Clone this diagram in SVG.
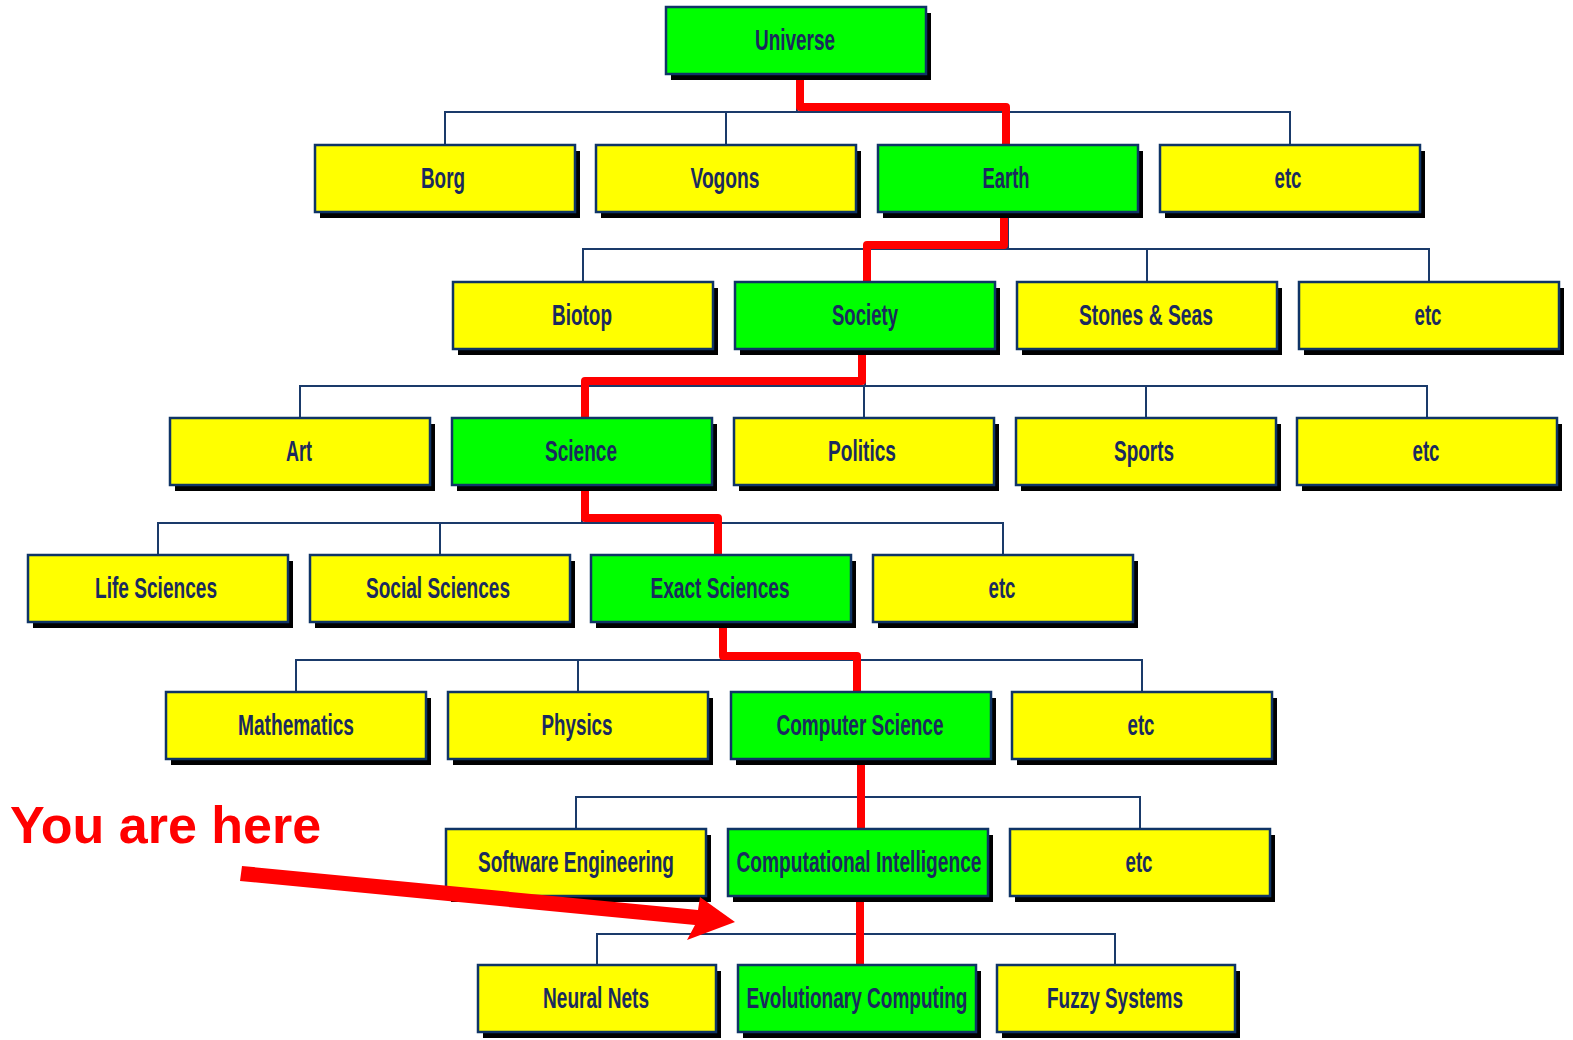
<svg xmlns="http://www.w3.org/2000/svg" width="1573" height="1040" viewBox="0 0 1573 1040">
<style>
.sh{fill:#000}
.y{fill:#ffff00;stroke:#0f3466;stroke-width:2.5}
.g{fill:#00ff00;stroke:#0f3466;stroke-width:2.5}
.t{font-family:"Liberation Sans Narrow","Liberation Sans",Arial,sans-serif;font-weight:bold;font-size:29px;fill:#1a2a5e;text-anchor:middle}
.ln{fill:none;stroke:#1a3a6a;stroke-width:2}
.rd{fill:none;stroke:#ff0000;stroke-width:8;stroke-linejoin:round}
.yah{font-family:"Liberation Sans",Arial,sans-serif;font-weight:bold;font-size:52px;fill:#ff0000}
</style>
<rect width="1573" height="1040" fill="#ffffff"/>

<g id="connectors">
<path class="ln" d="M797 74V112M445 145V112H1290V145M726 112V145M1008 112V145"/>
<path class="ln" d="M1008 212V249M583 282V249H1429V282M865 249V282M1147 249V282"/>
<path class="ln" d="M865 349V386M300 418V386H1427V418M582 386V418M864 386V418M1146 386V418"/>
<path class="ln" d="M582 486V523M158 555V523H1003V555M440 523V555M721 523V555"/>
<path class="ln" d="M721 622V660M296 692V660H1142V692M578 660V692M860 660V692"/>
<path class="ln" d="M860 760V797M576 829V797H1140V829M858 797V829"/>
<path class="ln" d="M858 896V934M597 965V934H1115V965M858 934V965"/>
<g id="path-highlight">
<path class="rd" d="M800 76V107H1006V145"/>
<path class="rd" d="M1004 214V245H867V282"/>
<path class="rd" d="M862 351V381H585V418"/>
<path class="rd" d="M585 488V518H718V555"/>
<path class="rd" d="M723 624V656H857V692"/>
<path class="rd" d="M861 762V829"/>
<path class="rd" d="M860 898V965"/>
</g>
</g>

<g id="n-universe"><rect class="sh" x="671" y="13" width="260" height="67"/><rect class="g" x="666" y="7" width="260" height="67"/><text class="t" x="795" y="50" textLength="80" lengthAdjust="spacingAndGlyphs">Universe</text></g>

<g id="n-borg"><rect class="sh" x="320" y="151" width="260" height="67"/><rect class="y" x="315" y="145" width="260" height="67"/><text class="t" x="443" y="188" textLength="44" lengthAdjust="spacingAndGlyphs">Borg</text></g>
<g id="n-vogons"><rect class="sh" x="601" y="151" width="260" height="67"/><rect class="y" x="596" y="145" width="260" height="67"/><text class="t" x="725" y="188" textLength="69" lengthAdjust="spacingAndGlyphs">Vogons</text></g>
<g id="n-earth"><rect class="sh" x="883" y="151" width="260" height="67"/><rect class="g" x="878" y="145" width="260" height="67"/><text class="t" x="1006" y="188" textLength="47" lengthAdjust="spacingAndGlyphs">Earth</text></g>
<g id="n-etc1"><rect class="sh" x="1165" y="151" width="260" height="67"/><rect class="y" x="1160" y="145" width="260" height="67"/><text class="t" x="1288" y="188" textLength="27" lengthAdjust="spacingAndGlyphs">etc</text></g>

<g id="n-biotop"><rect class="sh" x="458" y="288" width="260" height="67"/><rect class="y" x="453" y="282" width="260" height="67"/><text class="t" x="582" y="325" textLength="60" lengthAdjust="spacingAndGlyphs">Biotop</text></g>
<g id="n-society"><rect class="sh" x="740" y="288" width="260" height="67"/><rect class="g" x="735" y="282" width="260" height="67"/><text class="t" x="865" y="325" textLength="66" lengthAdjust="spacingAndGlyphs">Society</text></g>
<g id="n-stones"><rect class="sh" x="1022" y="288" width="260" height="67"/><rect class="y" x="1017" y="282" width="260" height="67"/><text class="t" x="1146" y="325" textLength="134" lengthAdjust="spacingAndGlyphs">Stones &amp; Seas</text></g>
<g id="n-etc2"><rect class="sh" x="1304" y="288" width="260" height="67"/><rect class="y" x="1299" y="282" width="260" height="67"/><text class="t" x="1428" y="325" textLength="27" lengthAdjust="spacingAndGlyphs">etc</text></g>

<g id="n-art"><rect class="sh" x="175" y="424" width="260" height="67"/><rect class="y" x="170" y="418" width="260" height="67"/><text class="t" x="299" y="461" textLength="26" lengthAdjust="spacingAndGlyphs">Art</text></g>
<g id="n-science"><rect class="sh" x="457" y="424" width="260" height="67"/><rect class="g" x="452" y="418" width="260" height="67"/><text class="t" x="581" y="461" textLength="72" lengthAdjust="spacingAndGlyphs">Science</text></g>
<g id="n-politics"><rect class="sh" x="739" y="424" width="260" height="67"/><rect class="y" x="734" y="418" width="260" height="67"/><text class="t" x="862" y="461" textLength="68" lengthAdjust="spacingAndGlyphs">Politics</text></g>
<g id="n-sports"><rect class="sh" x="1021" y="424" width="260" height="67"/><rect class="y" x="1016" y="418" width="260" height="67"/><text class="t" x="1144" y="461" textLength="60" lengthAdjust="spacingAndGlyphs">Sports</text></g>
<g id="n-etc3"><rect class="sh" x="1302" y="424" width="260" height="67"/><rect class="y" x="1297" y="418" width="260" height="67"/><text class="t" x="1426" y="461" textLength="27" lengthAdjust="spacingAndGlyphs">etc</text></g>

<g id="n-life"><rect class="sh" x="33" y="561" width="260" height="67"/><rect class="y" x="28" y="555" width="260" height="67"/><text class="t" x="156" y="598" textLength="122" lengthAdjust="spacingAndGlyphs">Life Sciences</text></g>
<g id="n-social"><rect class="sh" x="315" y="561" width="260" height="67"/><rect class="y" x="310" y="555" width="260" height="67"/><text class="t" x="438" y="598" textLength="144" lengthAdjust="spacingAndGlyphs">Social Sciences</text></g>
<g id="n-exact"><rect class="sh" x="596" y="561" width="260" height="67"/><rect class="g" x="591" y="555" width="260" height="67"/><text class="t" x="720" y="598" textLength="139" lengthAdjust="spacingAndGlyphs">Exact Sciences</text></g>
<g id="n-etc4"><rect class="sh" x="878" y="561" width="260" height="67"/><rect class="y" x="873" y="555" width="260" height="67"/><text class="t" x="1002" y="598" textLength="27" lengthAdjust="spacingAndGlyphs">etc</text></g>

<g id="n-math"><rect class="sh" x="171" y="698" width="260" height="67"/><rect class="y" x="166" y="692" width="260" height="67"/><text class="t" x="296" y="735" textLength="116" lengthAdjust="spacingAndGlyphs">Mathematics</text></g>
<g id="n-physics"><rect class="sh" x="453" y="698" width="260" height="67"/><rect class="y" x="448" y="692" width="260" height="67"/><text class="t" x="577" y="735" textLength="71" lengthAdjust="spacingAndGlyphs">Physics</text></g>
<g id="n-cs"><rect class="sh" x="736" y="698" width="260" height="67"/><rect class="g" x="731" y="692" width="260" height="67"/><text class="t" x="860" y="735" textLength="167" lengthAdjust="spacingAndGlyphs">Computer Science</text></g>
<g id="n-etc5"><rect class="sh" x="1017" y="698" width="260" height="67"/><rect class="y" x="1012" y="692" width="260" height="67"/><text class="t" x="1141" y="735" textLength="27" lengthAdjust="spacingAndGlyphs">etc</text></g>

<g id="n-se"><rect class="sh" x="451" y="835" width="260" height="67"/><rect class="y" x="446" y="829" width="260" height="67"/><text class="t" x="576" y="872" textLength="196" lengthAdjust="spacingAndGlyphs">Software Engineering</text></g>
<g id="n-ci"><rect class="sh" x="733" y="835" width="260" height="67"/><rect class="g" x="728" y="829" width="260" height="67"/><text class="t" x="859" y="872" textLength="245" lengthAdjust="spacingAndGlyphs">Computational Intelligence</text></g>
<g id="n-etc6"><rect class="sh" x="1015" y="835" width="260" height="67"/><rect class="y" x="1010" y="829" width="260" height="67"/><text class="t" x="1139" y="872" textLength="27" lengthAdjust="spacingAndGlyphs">etc</text></g>

<g id="n-nn"><rect class="sh" x="483" y="971" width="238" height="67"/><rect class="y" x="478" y="965" width="238" height="67"/><text class="t" x="596" y="1008" textLength="106" lengthAdjust="spacingAndGlyphs">Neural Nets</text></g>
<g id="n-ec"><rect class="sh" x="743" y="971" width="238" height="67"/><rect class="g" x="738" y="965" width="238" height="67"/><text class="t" x="857" y="1008" textLength="221" lengthAdjust="spacingAndGlyphs">Evolutionary Computing</text></g>
<g id="n-fuzzy"><rect class="sh" x="1002" y="971" width="238" height="67"/><rect class="y" x="997" y="965" width="238" height="67"/><text class="t" x="1115" y="1008" textLength="136" lengthAdjust="spacingAndGlyphs">Fuzzy Systems</text></g>

<g id="you-are-here">
<text class="yah" x="10" y="843">You are here</text>
<polygon fill="#ff0000" points="242,866 698,910 700,897 735,922 687,940 695,925 240,881"/>
</g>
</svg>
